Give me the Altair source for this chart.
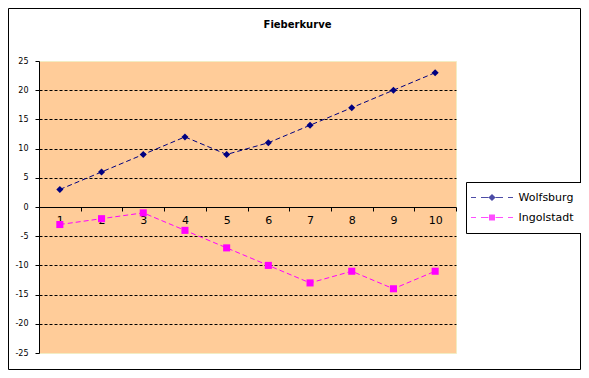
import altair as alt
import pandas as pd

# ---- data ----
days = [1, 2, 3, 4, 5, 6, 7, 8, 9, 10]
wolfsburg = [3, 6, 9, 12, 9, 11, 14, 17, 20, 23]
ingolstadt = [-3, -2, -1, -4, -7, -10, -13, -11, -14, -11]
series = ["Wolfsburg", "Ingolstadt"]
series_colors = ["#000080", "#FF00FF"]
y_ticks = [-25, -20, -15, -10, -5, 0, 5, 10, 15, 20, 25]
title_text = "Fieberkurve"

df = pd.DataFrame({
    "Tag": days + days,
    "Wert": wolfsburg + ingolstadt,
    "Reihe": [series[0]] * len(days) + [series[1]] * len(days),
})

W, H = 417, 292
FONT = "DejaVu Sans"


def bar(x1, x2, t=0.13):
    return f"M{x1},{-t}H{x2}V{t}H{x1}Z"


dashes = "".join(bar(a, b) for a, b in [(-5.25, -4), (-2.75, -0.9), (0.9, 2.75), (4, 5.25)])
legend_diamond = dashes + "M0,-0.9L0.9,0L0,0.9L-0.9,0Z"
legend_square = dashes + "M-0.75,-0.75H0.75V0.75H-0.75Z"

x_enc = alt.X(
    "Tag:O",
    scale=alt.Scale(domain=days, paddingInner=0, paddingOuter=0),
    axis=alt.Axis(
        orient="bottom", offset=-H / 2, labelAngle=0, tickBand="extent",
        title=None, grid=False, domainColor="black", tickColor="black",
        tickSize=4, labelPadding=3, labelFont=FONT, labelFontSize=11,
        labelColor="black",
    ),
)
y_enc = alt.Y(
    "Wert:Q",
    scale=alt.Scale(domain=[-25, 25], nice=False, zero=False),
    axis=alt.Axis(
        values=y_ticks, title=None, grid=True, gridColor="black",
        gridDash=[3, 2], gridWidth=1,
        gridOpacity={"condition": {"test": "abs(datum.value) >= 25 || datum.value == 0", "value": 0}, "value": 1},
        domainColor="black", tickColor="black", tickSize=4, labelPadding=7,
        labelFont=FONT, labelFontSize=8, labelColor="black",
        labelExpr="'' + datum.value",
    ),
)

color_plain = alt.Color("Reihe:N", scale=alt.Scale(domain=series, range=series_colors), legend=None)

border = alt.Chart(alt.Data(values=[{"k": 1}])).mark_rect(
    filled=False, stroke="black", strokeWidth=1
).encode(
    x=alt.value(-30.5), x2=alt.value(541.5), y=alt.value(-52.5), y2=alt.value(308.5)
)

lines = alt.Chart(df).mark_line(strokeDash=[5, 3], strokeWidth=1).encode(
    x=x_enc, y=y_enc, color=color_plain
)

points = alt.Chart(df).mark_point(filled=True, opacity=1, size=50).encode(
    x=x_enc, y=y_enc, color=color_plain,
    shape=alt.Shape("Reihe:N", scale=alt.Scale(domain=series, range=["diamond", "square"]), legend=None),
)

legend_props = dict(
    orient="none", legendX=427, legendY=121, title=None,
    strokeColor="black", fillColor="white", padding=10, cornerRadius=0,
    labelFont=FONT, labelFontSize=11, labelColor="black",
    symbolSize=64, symbolOffset=10.5, labelOffset=21, rowPadding=8,
    symbolStrokeWidth=0,
)

legend_layer = alt.Chart(df).transform_filter("false").mark_point(filled=True, size=64).encode(
    x=x_enc, y=y_enc,
    color=alt.Color("Reihe:N", scale=alt.Scale(domain=series, range=series_colors),
                    legend=alt.Legend(**legend_props)),
    shape=alt.Shape("Reihe:N", scale=alt.Scale(domain=series, range=[legend_diamond, legend_square]),
                    legend=alt.Legend(**legend_props)),
)

chart = alt.layer(border, lines, points, legend_layer).resolve_scale(
    color="independent", shape="independent"
).properties(
    width=W, height=H,
    padding={"left": 31, "top": 53, "right": 125, "bottom": 17},
    autosize=alt.AutoSizeParams(type="none"),
    title=alt.TitleParams(
        text=title_text, font=FONT, fontSize=10, fontWeight="bold",
        color="black", anchor="middle", offset=-22, dx=50,
    ),
).configure(
    background="white"
).configure_view(
    fill="#FFCC99", stroke="#F2EDC4"
)

chart.save("out.html", embed_options={"renderer": "svg", "actions": False})
